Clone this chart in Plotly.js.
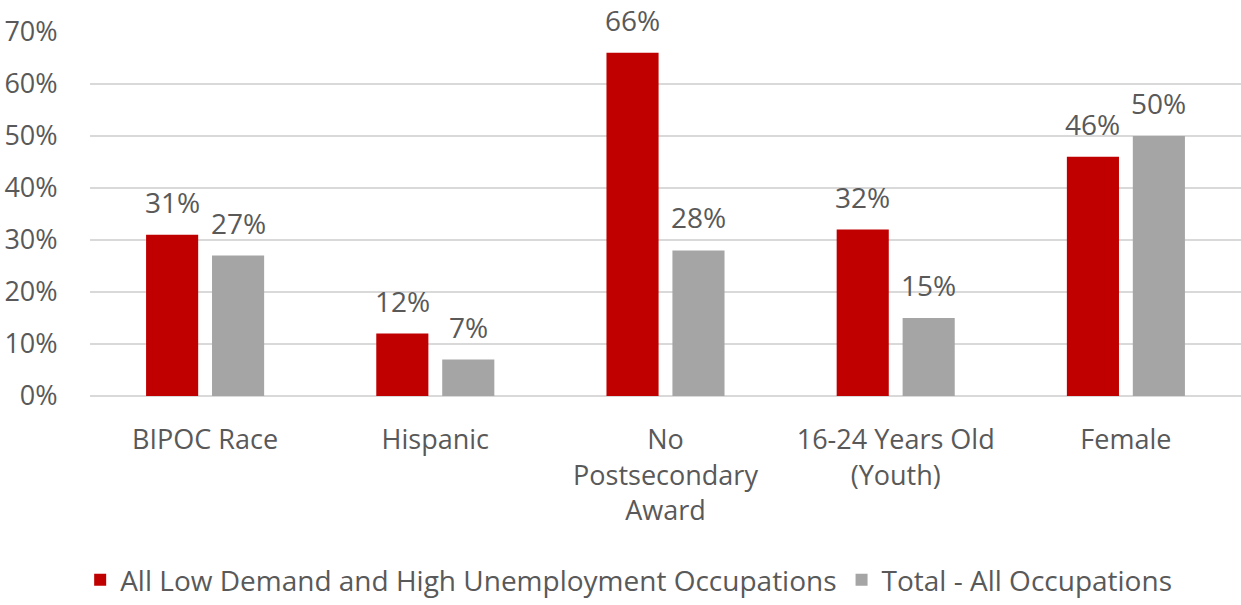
<!DOCTYPE html>
<html>
<head>
<meta charset="utf-8">
<script src="https://cdn.plot.ly/plotly-3.0.1.min.js"></script>
<style>html,body{margin:0;padding:0;background:#fff;}#chart{width:1241px;height:605px;}</style>
</head>
<body>
<div id="chart"></div>
<script>
const categories = ["BIPOC Race", "Hispanic", "No<br>Postsecondary<br>Award", "16-24 Years Old<br>(Youth)", "Female"];
const seriesNames = ["All Low Demand and High Unemployment Occupations", "Total - All Occupations"];
const lowDemand = [31, 12, 66, 32, 46];
const totalAll = [27, 7, 28, 15, 50];
const tickVals = [0, 10, 20, 30, 40, 50, 60, 70];

const FONT = "'Open Sans', 'Noto Sans', sans-serif";
const TXT = "#595959";
const BARGAP = 0.427, GROUPGAP = 0.21;

const traces = [
  {type: "bar", name: seriesNames[0], x: categories, y: lowDemand, marker: {color: "#c00000"}, hoverinfo: "skip"},
  {type: "bar", name: seriesNames[1], x: categories, y: totalAll, marker: {color: "#a5a5a5"}, hoverinfo: "skip"}
];

// data labels placed above each bar, aligned with Plotly's grouped bar offsets
const slot = (1 - BARGAP) / 2;
const annotations = [];
[lowDemand, totalAll].forEach((vals, s) => {
  const off = (s - 0.5) * slot;
  vals.forEach((v, i) => {
    annotations.push({x: i + off, y: v, xref: "x", yref: "y", text: v + "%", showarrow: false,
      xanchor: "center", yanchor: "bottom", yshift: 12,
      font: {family: FONT, size: 28, color: TXT}});
  });
});

const layout = {
  width: 1241, height: 605,
  margin: {l: 90, r: 0, t: 32, b: 206},
  paper_bgcolor: "#fff", plot_bgcolor: "#fff",
  font: {family: FONT, size: 26, color: TXT},
  barmode: "group", bargap: BARGAP, bargroupgap: GROUPGAP,
  showlegend: true,
  legend: {orientation: "h", x: 0.468, xanchor: "center", y: -0.507, yanchor: "middle",
           font: {family: FONT, size: 28, color: TXT}, itemwidth: 30, traceorder: "normal"},
  annotations: annotations,
  xaxis: {type: "category", tickfont: {family: FONT, size: 27, color: TXT}, showline: false,
          showgrid: false, ticks: "outside", ticklen: 20, tickcolor: "rgba(0,0,0,0)", fixedrange: true},
  yaxis: {range: [0, 70], tickvals: tickVals, ticktext: tickVals.map(v => v + "%"),
          showgrid: true, gridcolor: "#d9d9d9", gridwidth: 2, zeroline: true, zerolinecolor: "#d9d9d9", zerolinewidth: 2,
          ticks: "outside", ticklen: 26, tickcolor: "rgba(0,0,0,0)",
          tickfont: {family: FONT, size: 27, color: TXT}, fixedrange: true}
};

Plotly.newPlot("chart", traces, layout, {displayModeBar: false, staticPlot: true});
</script>
</body>
</html>
